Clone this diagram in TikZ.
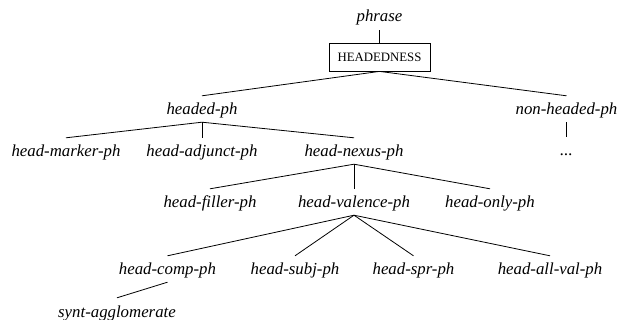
\documentclass[tikz,border=0pt]{standalone}
\usepackage{fontspec}
\setmainfont{Liberation Serif}
\begin{document}
\begin{tikzpicture}[x=1pt,y=-1pt,
  lab/.style={font=\fontsize{16.8}{20}\selectfont\itshape, inner sep=0pt,
    text height=19pt, text depth=7pt, anchor=base},
  featbox/.style={draw, line width=0.8pt, minimum width=101pt, minimum height=28pt,
    inner sep=0pt, font=\fontsize{12.8}{15}\selectfont},
  edge/.style={line width=0.8pt}]
\useasboundingbox (0,0) rectangle (621,320);
\node[lab, text depth=8pt] (phrase) at (379.5,22) {phrase};
\node[featbox] (hd) at (379.5,57) {HEADEDNESS};
\node[lab] (headed) at (202,115) {headed-ph};
\node[lab] (nonheaded) at (566.5,115) {non-headed-ph};
\node[lab] (dots) at (566.5,156) {...};
\node[lab] (marker) at (66,157) {head-marker-ph};
\node[lab] (adjunct) at (202,157) {head-adjunct-ph};
\node[lab] (nexus) at (354,157) {head-nexus-ph};
\node[lab] (filler) at (210,208) {head-filler-ph};
\node[lab] (valence) at (354,208) {head-valence-ph};
\node[lab] (only) at (490,208) {head-only-ph};
\node[lab] (comp) at (167.5,275) {head-comp-ph};
\node[lab] (subj) at (295,275) {head-subj-ph};
\node[lab] (spr) at (413.5,275) {head-spr-ph};
\node[lab] (allval) at (550,275) {head-all-val-ph};
\node[lab] (synt) at (117,317) {synt-agglomerate};
\draw[edge] (phrase.south) -- (hd.north);
\draw[edge] (hd.south) -- (headed.north);
\draw[edge] (hd.south) -- (nonheaded.north);
\draw[edge] (nonheaded.south) -- (dots.north);
\draw[edge] (headed.south) -- (marker.north);
\draw[edge] (headed.south) -- (adjunct.north);
\draw[edge] (headed.south) -- (nexus.north);
\draw[edge] (nexus.south) -- (filler.north);
\draw[edge] (nexus.south) -- (valence.north);
\draw[edge] (nexus.south) -- (only.north);
\draw[edge] (valence.south) -- (comp.north);
\draw[edge] (valence.south) -- (subj.north);
\draw[edge] (valence.south) -- (spr.north);
\draw[edge] (valence.south) -- (allval.north);
\draw[edge] (comp.south) -- (synt.north);
\end{tikzpicture}
\end{document}
